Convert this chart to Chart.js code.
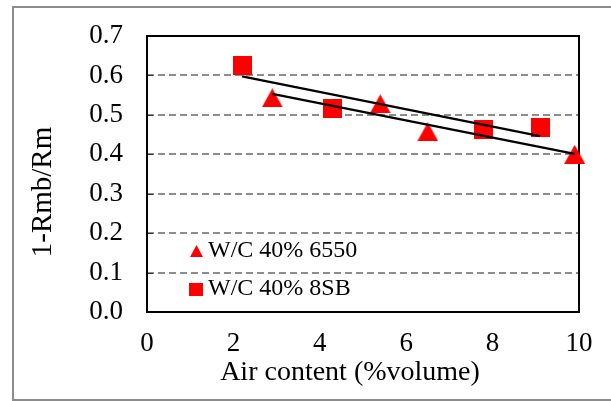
<!DOCTYPE html>
<html><head><meta charset="utf-8">
<script src="https://cdn.jsdelivr.net/npm/chart.js@4.4.0/dist/chart.umd.min.js"></script>
<style>html,body{margin:0;padding:0;background:#fff}#wrap{width:611px;height:401px;position:relative}</style>
</head><body><div id="wrap"><canvas id="c" width="611" height="401"></canvas></div>
<script>
// ---- data ----
const seriesLabels = ['W/C 40% 6550', 'W/C 40% 8SB'];
const air6550 = [2.9, 5.4, 6.5, 9.9];
const ratio6550 = [0.543, 0.528, 0.457, 0.400];
const air8SB = [2.2, 4.3, 7.8, 9.1];
const ratio8SB = [0.625, 0.515, 0.462, 0.467];
const xTickValues = [0, 2, 4, 6, 8, 10];
const yTickValues = [0, 0.1, 0.2, 0.3, 0.4, 0.5, 0.6, 0.7];
const xTitle = 'Air content (%volume)';
const yTitle = '1-Rmb/Rm';

// ---- helpers ----
const FONT = "'Liberation Serif', 'Times New Roman', serif";
const RED = '#ff0000';
function toPoints(xs, ys) { return xs.map((x, i) => ({x: x, y: ys[i]})); }
function linearFit(xs, ys) {
  const n = xs.length;
  const mx = xs.reduce((a, b) => a + b, 0) / n;
  const my = ys.reduce((a, b) => a + b, 0) / n;
  let sxy = 0, sxx = 0;
  for (let i = 0; i < n; i++) { sxy += (xs[i] - mx) * (ys[i] - my); sxx += (xs[i] - mx) ** 2; }
  const b = sxy / sxx, a = my - b * mx;
  const x0 = Math.min(...xs), x1 = Math.max(...xs);
  return [{x: x0, y: a + b * x0}, {x: x1, y: a + b * x1}];
}
function markerCanvas(kind, w, h) {
  const c = document.createElement('canvas');
  c.width = w; c.height = h;
  const g = c.getContext('2d');
  g.fillStyle = RED;
  if (kind === 'tri') {
    g.beginPath(); g.moveTo(w / 2, 0); g.lineTo(w, h); g.lineTo(0, h); g.closePath(); g.fill();
  } else {
    g.fillRect(0, 0, w, h);
  }
  return c;
}
const triBig = markerCanvas('tri', 21, 19);
const sqBig = markerCanvas('sq', 19, 19);
const triSmall = markerCanvas('tri', 13, 12);
const sqSmall = markerCanvas('sq', 14, 13);

const framePlugin = {
  id: 'frame',
  beforeDraw(chart) {
    const ctx = chart.ctx;
    ctx.save();
    ctx.fillStyle = '#fff';
    ctx.fillRect(0, 0, chart.width, chart.height);
    ctx.strokeStyle = '#8c8c8c';
    ctx.lineWidth = 2;
    ctx.strokeRect(13, 7, 640, 393);
    ctx.restore();
  },
  beforeDatasetsDraw(chart) {
    const ctx = chart.ctx, a = chart.chartArea;
    const ys = chart.scales.y;
    ctx.save();
    ctx.strokeStyle = '#333';
    ctx.lineWidth = 1;
    ys.ticks.forEach(t => {
      const py = Math.round(ys.getPixelForValue(t.value)) + 0.5;
      ctx.beginPath(); ctx.moveTo(a.left, py); ctx.lineTo(a.left + 6, py); ctx.stroke();
    });
    ctx.strokeStyle = '#000';
    ctx.lineWidth = 2;
    ctx.strokeRect(a.left, a.top, a.right - a.left, a.bottom - a.top);
    ctx.restore();
  },
  afterDraw(chart) {
    const ctx = chart.ctx;
    const items = [
      {img: triSmall, label: seriesLabels[0], mx: 196, my: 251},
      {img: sqSmall, label: seriesLabels[1], mx: 196, my: 289}
    ];
    ctx.save();
    ctx.font = '24px ' + FONT;
    ctx.fillStyle = '#000';
    ctx.textBaseline = 'middle';
    ctx.textAlign = 'left';
    items.forEach(it => {
      ctx.drawImage(it.img, Math.round(it.mx - it.img.width / 2), Math.round(it.my - it.img.height / 2));
      ctx.fillText(it.label, 208, it.my);
    });
    // axis titles
    ctx.textAlign = 'center';
    ctx.font = '28px ' + FONT;
    ctx.fillText(xTitle, 350, 373);
    ctx.translate(43, 192);
    ctx.rotate(-Math.PI / 2);
    ctx.font = '29px ' + FONT;
    ctx.fillText(yTitle, 0, 0);
    ctx.restore();
  }
};

new Chart(document.getElementById('c'), {
  type: 'scatter',
  data: {
    datasets: [
      {label: seriesLabels[0], data: toPoints(air6550, ratio6550), pointStyle: triBig, pointRadius: 10,
       backgroundColor: RED, borderColor: RED, order: 2, clip: false},
      {label: seriesLabels[1], data: toPoints(air8SB, ratio8SB), pointStyle: sqBig, pointRadius: 10,
       backgroundColor: RED, borderColor: RED, order: 2, clip: false},
      {type: 'line', label: 'trend 6550', data: linearFit(air6550, ratio6550), borderColor: '#000',
       borderWidth: 2.2, pointRadius: 0, fill: false, order: 0},
      {type: 'line', label: 'trend 8SB', data: linearFit(air8SB, ratio8SB), borderColor: '#000',
       borderWidth: 2.2, pointRadius: 0, fill: false, order: 0}
    ]
  },
  options: {
    responsive: false,
    animation: false,
    events: [],
    layout: {padding: {top: 36, right: 32, left: 0, bottom: 0}},
    plugins: {legend: {display: false}, tooltip: {enabled: false}},
    scales: {
      x: {
        type: 'linear', min: 0, max: 10,
        afterBuildTicks: s => { s.ticks = xTickValues.map(v => ({value: v})); },
        afterFit: s => { s.height = 89; s.paddingLeft = 0; s.paddingRight = 0; },
        grid: {display: false, drawTicks: false},
        border: {display: false},
        ticks: {font: {family: FONT, size: 27}, color: '#000', padding: 16, maxRotation: 0,
                callback: v => String(v)},
        title: {display: false}
      },
      y: {
        type: 'linear', min: 0, max: 0.7,
        afterBuildTicks: s => { s.ticks = yTickValues.map(v => ({value: v})); },
        afterFit: s => { s.width = 147; s.paddingTop = 0; s.paddingBottom = 0; },
        grid: {color: '#8c8c8c', lineWidth: 2, drawTicks: false, borderDash: [7, 4]},
        border: {display: false, dash: [7, 4]},
        ticks: {font: {family: FONT, size: 27}, color: '#000', padding: 24,
                callback: v => Number(v).toFixed(1)},
        title: {display: false}
      }
    }
  },
  plugins: [framePlugin]
});
</script></body></html>
